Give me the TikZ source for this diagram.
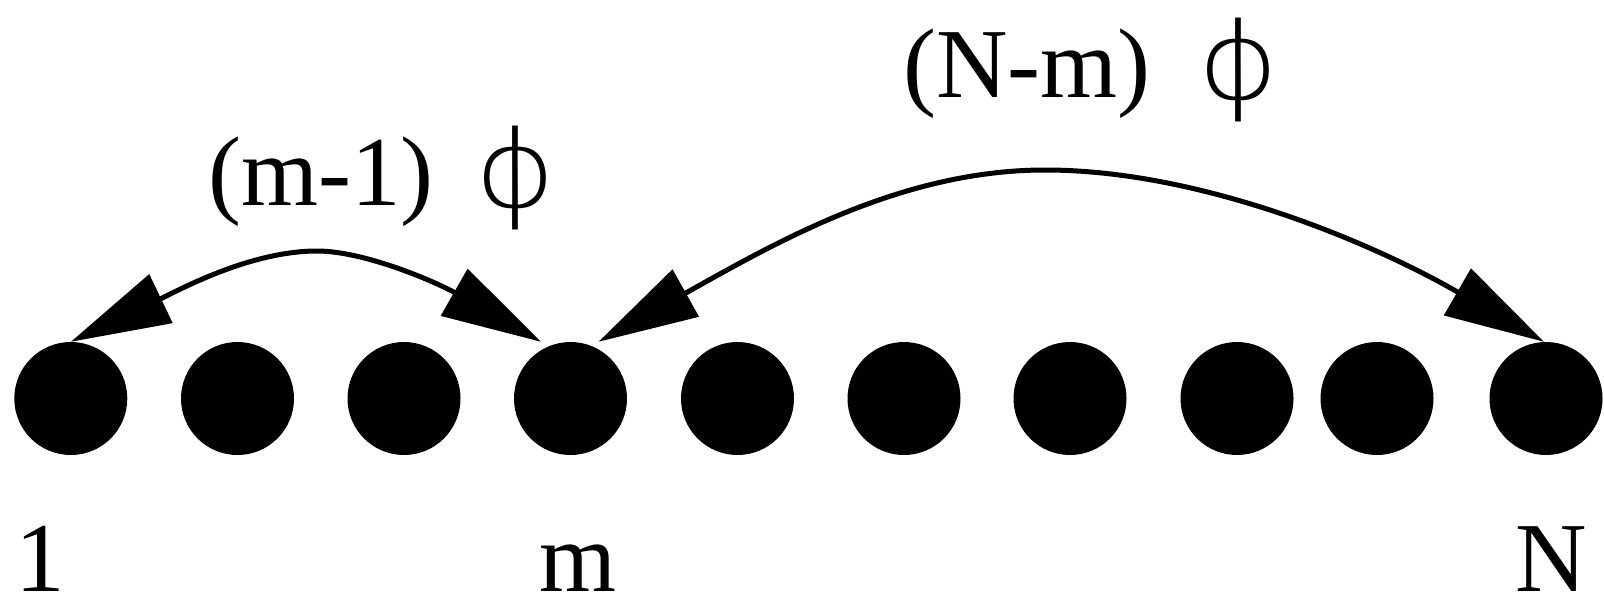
\documentclass[tikz,border=0pt]{standalone}
\usepackage{fontspec}
\usepackage{graphicx}
\setmainfont{Liberation Serif}
\newfontfamily\phifont{DejaVu Sans ExtraLight}
\usetikzlibrary{arrows.meta,calc}
\newcommand{\phisym}{\makebox[0pt]{\raisebox{-2pt}{\scalebox{1.15}[1]{\phifont\fontsize{108}{110}\selectfont ϕ}}}}
\begin{document}
\begin{tikzpicture}[x=1pt,y=-1pt,
  dot/.style={circle,fill=black,minimum size=113pt,inner sep=0pt},
  lbl/.style={inner sep=0pt,font=\fontsize{99}{110}\selectfont},
  link/.style={line width=5pt,{Triangle[length=100pt,width=53pt]}-{Triangle[length=100pt,width=53pt]}}]
\useasboundingbox (0,0) rectangle (1604,595);
\node[dot] (d1) at (70.8,398.5) {};
\node[dot] (d2) at (237.5,398.5) {};
\node[dot] (d3) at (404,398.5) {};
\node[dot] (d4) at (570.5,398.5) {};
\node[dot] (d5) at (737.5,398.5) {};
\node[dot] (d6) at (904,398.5) {};
\node[dot] (d7) at (1070,398.5) {};
\node[dot] (d8) at (1237,398.5) {};
\node[dot] (d9) at (1377,398.5) {};
\node[dot] (d10) at (1546,398.5) {};
\node[lbl,anchor=base] (l1) at (40.5,591) {1};
\node[lbl,anchor=base] (lm) at (578,591) {m};
\node[lbl,anchor=base] (lN) at (1551,591) {N};
\node[lbl,anchor=base west] (t1) at (208,205) {(m-1)\hspace{81.6pt}\phisym};
\node[lbl,anchor=base west] (t2) at (903,97) {(N-m)\hspace{87.6pt}\phisym};
\draw[link] (d1.north) .. controls (179,290) and (250,251) .. (317,251)
  .. controls (365,251) and (437,282.5) .. ([xshift=-29.5pt]d4.north);
\draw[link] ([xshift=28pt]d4.north) .. controls (773.5,244) and (900,170) .. (1045,170)
  .. controls (1200,170) and (1370.8,242) .. ([xshift=-2pt]d10.north);
\end{tikzpicture}
\end{document}
